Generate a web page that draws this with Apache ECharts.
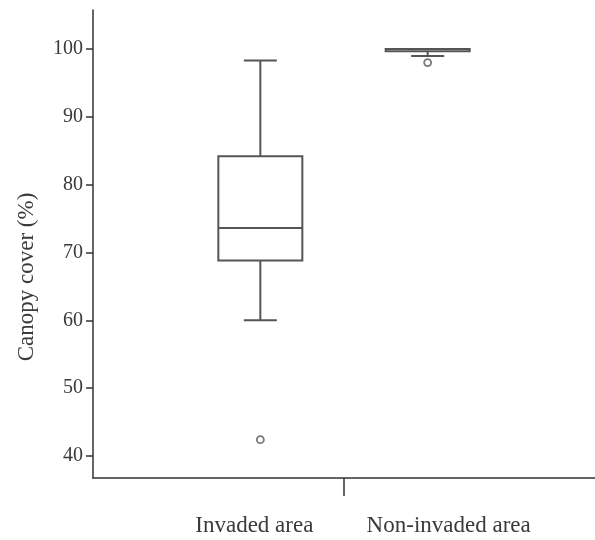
<!DOCTYPE html>
<html>
<head>
<meta charset="utf-8">
<script src="https://cdn.jsdelivr.net/npm/echarts@6/dist/echarts.min.js"></script>
<style>html,body{margin:0;padding:0;background:#fff;}#c{width:595px;height:540px;}</style>
</head>
<body>
<div id="c"></div>
<script>
var categories = ['Invaded area', 'Non-invaded area'];
// [lower whisker, Q1, median, Q3, upper whisker]
var boxValues = [
  [60.0, 68.8, 73.6, 84.2, 98.3],
  [98.97, 99.65, 100.0, 100.0, 100.0]
];
var outliers = [
  [0, 42.4],
  [1, 98.0]
];
var yTicks = [40, 50, 60, 70, 80, 90, 100];

var font = 'Liberation Serif, Times New Roman, serif';
var textColor = '#3a3a3a';
var lineColor = '#555';

var chart = echarts.init(document.getElementById('c'), null, {renderer: 'canvas'});

var boxData = boxValues.map(function (v, i) { return [i + 1].concat(v); });
var outlierData = outliers.map(function (o) { return [o[0] + 1, o[1]]; });

function renderBox(params, api) {
  var x = api.value(0);
  var lo = api.coord([x, api.value(1)]);
  var q1 = api.coord([x, api.value(2)]);
  var md = api.coord([x, api.value(3)]);
  var q3 = api.coord([x, api.value(4)]);
  var hi = api.coord([x, api.value(5)]);
  var cx = lo[0];
  var hw = 42, cw = 16.5;
  var st = {stroke: lineColor, lineWidth: 2, fill: null};
  return {
    type: 'group',
    children: [
      {type: 'line', shape: {x1: cx, y1: hi[1], x2: cx, y2: q3[1]}, style: st},
      {type: 'line', shape: {x1: cx, y1: q1[1], x2: cx, y2: lo[1]}, style: st},
      {type: 'line', shape: {x1: cx - cw, y1: hi[1], x2: cx + cw, y2: hi[1]}, style: st},
      {type: 'line', shape: {x1: cx - cw, y1: lo[1], x2: cx + cw, y2: lo[1]}, style: st},
      {type: 'rect', shape: {x: cx - hw, y: q3[1], width: 2 * hw, height: q1[1] - q3[1]}, style: {stroke: lineColor, lineWidth: 2, fill: '#fff'}},
      {type: 'line', shape: {x1: cx - hw, y1: md[1], x2: cx + hw, y2: md[1]}, style: st}
    ]
  };
}

chart.setOption({
  animation: false,
  backgroundColor: '#fff',
  grid: {left: 93, right: 0, top: 10, bottom: 62},
  xAxis: {
    type: 'value', min: 0, max: 3,
    splitLine: {show: false},
    axisLine: {show: true, onZero: false, lineStyle: {color: '#333', width: 1.5}},
    axisTick: {show: true, customValues: [1.5], length: 18, inside: false, lineStyle: {color: '#333', width: 1.5}},
    axisLabel: {
      show: true, customValues: [1, 2], margin: 36,
      fontFamily: font, fontSize: 23, color: textColor,
      formatter: function (v) {
        var i = Math.round(v) - 1;
        if (i === 0) return '{a|' + categories[0] + '}';
        if (i === 1) return '{b|' + categories[1] + '}';
        return '';
      },
      rich: {
        a: {fontFamily: font, fontSize: 23, color: textColor, padding: [0, 12, 0, 0]},
        b: {fontFamily: font, fontSize: 23, color: textColor, padding: [0, 0, 0, 42]}
      }
    }
  },
  yAxis: {
    type: 'value', min: 36.75, max: 105.75,
    splitLine: {show: false},
    axisLine: {show: true, lineStyle: {color: '#333', width: 1.5}},
    axisTick: {show: true, customValues: yTicks, length: 7, lineStyle: {color: '#333', width: 1.5}},
    axisLabel: {show: true, customValues: yTicks, margin: 10, fontFamily: font, fontSize: 20, color: textColor}
  },
  graphic: [{
    type: 'text', x: 27, y: 277, rotation: Math.PI / 2,
    style: {text: 'Canopy cover (%)', font: '23px ' + font, fill: textColor, align: 'center', verticalAlign: 'middle'}
  }],
  series: [
    {type: 'custom', renderItem: renderBox, data: boxData, encode: {x: 0, y: [1, 2, 3, 4, 5]}, z: 2},
    {type: 'scatter', data: outlierData, symbol: 'circle', symbolSize: 7,
     itemStyle: {color: '#fff', borderColor: lineColor, borderWidth: 1.8}, z: 3}
  ]
});
</script>
</body>
</html>
